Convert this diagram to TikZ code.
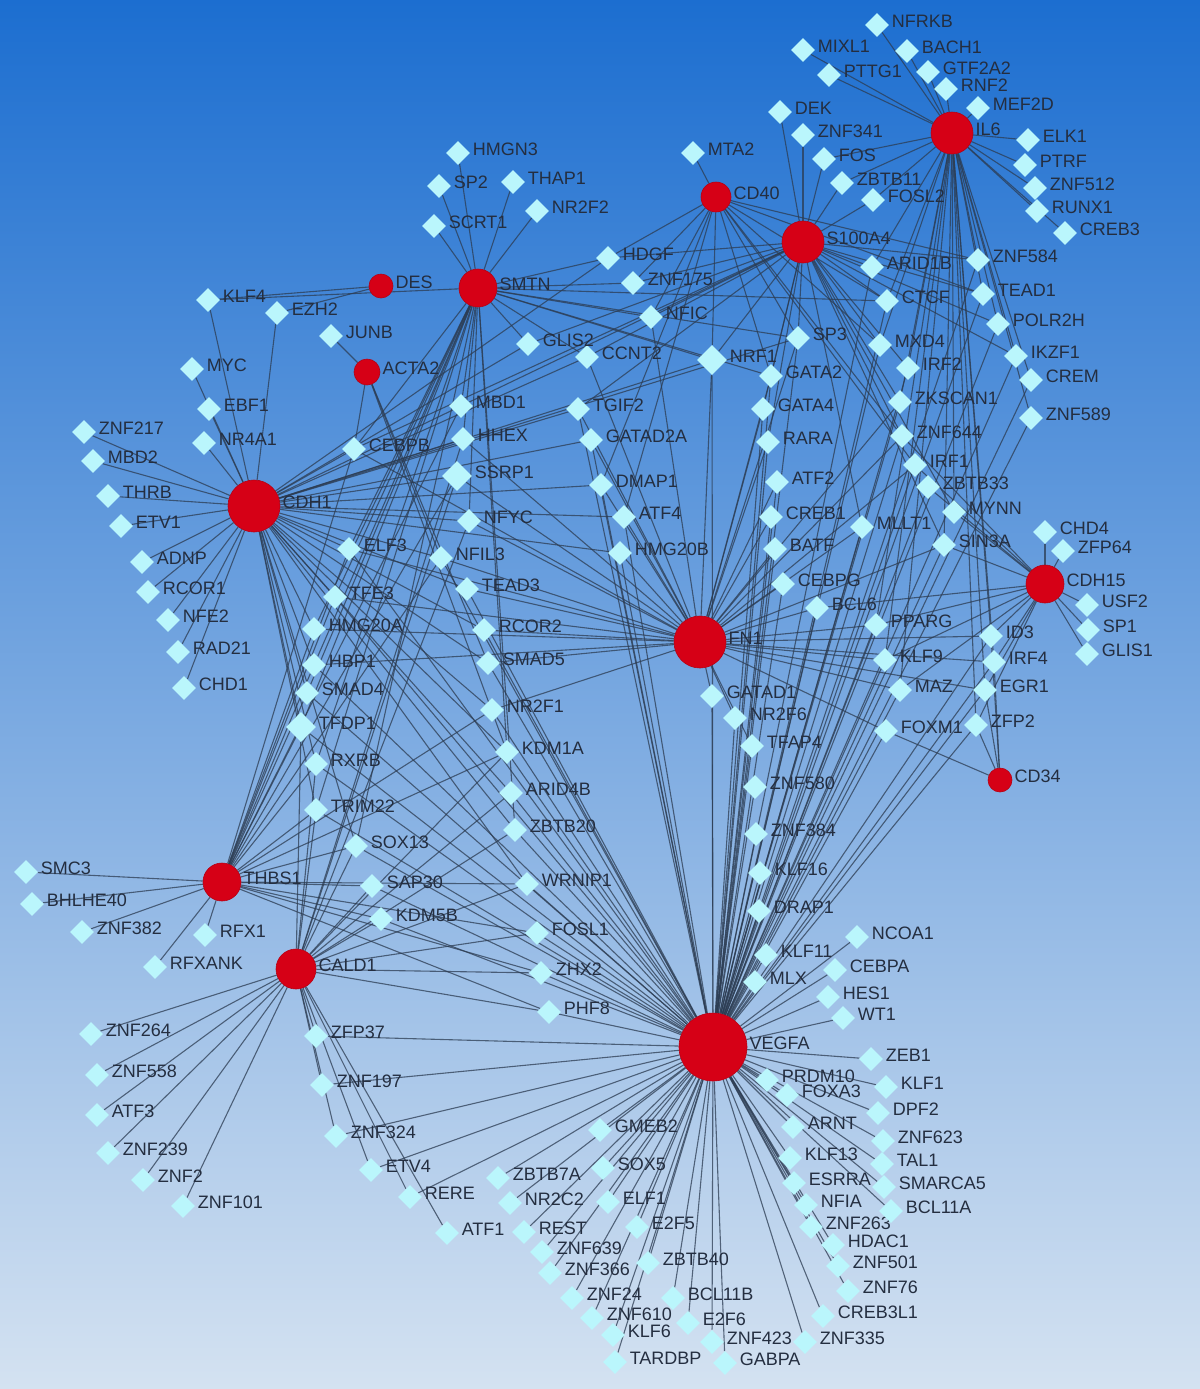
\documentclass[tikz,border=0pt]{standalone}
\usepackage{fontspec}
\setmainfont{Liberation Sans}
\usetikzlibrary{shapes.geometric}

\pgfdeclarelayer{bg}
\pgfdeclarelayer{edges}
\pgfsetlayers{bg,edges,main}

\definecolor{hubred}{RGB}{214,0,22}
\definecolor{tfcyan}{RGB}{186,246,252}
\definecolor{edgegray}{RGB}{44,60,82}
\definecolor{lbltext}{RGB}{36,46,64}
\definecolor{bgtop}{RGB}{28,110,208}
\definecolor{bgbot}{RGB}{212,226,241}

\tikzset{
  tf/.style={diamond,fill=tfcyan,inner sep=0pt,minimum size=12pt},
  bigtf/.style={tf,minimum size=15pt},
  hub/.style={circle,fill=hubred,draw=hubred!85!black,line width=.3pt,inner sep=0pt},
  lbl/.style={font=\fontsize{9}{10}\selectfont,text=lbltext,inner sep=1pt,yshift=2pt},
  link/.style={edgegray,opacity=.75,line width=.55pt},
}

\begin{document}
\begin{tikzpicture}[x=.5pt,y=-.5pt]

  \begin{pgfonlayer}{bg}
    \shade[top color=bgtop,bottom color=bgbot] (0,0) rectangle (1200,1389);
  \end{pgfonlayer}
  \useasboundingbox (0,0) rectangle (1200,1389);

  % hub genes
  \node[hub,minimum size=21pt,label={[lbl]right:IL6}] (IL6) at (952,133) {};
  \node[hub,minimum size=15pt,label={[lbl]right:CD40}] (CD40) at (716,197) {};
  \node[hub,minimum size=21pt,label={[lbl]right:S100A4}] (S100A4) at (803,242) {};
  \node[hub,minimum size=19pt,label={[lbl]right:SMTN}] (SMTN) at (478,288) {};
  \node[hub,minimum size=12pt,label={[lbl]right:DES}] (DES) at (381,286) {};
  \node[hub,minimum size=13pt,label={[lbl]right:ACTA2}] (ACTA2) at (367,372) {};
  \node[hub,minimum size=26pt,label={[lbl]right:CDH1}] (CDH1) at (254,506) {};
  \node[hub,minimum size=26pt,label={[lbl]right:FN1}] (FN1) at (700,642) {};
  \node[hub,minimum size=19pt,label={[lbl]right:CDH15}] (CDH15) at (1045,584) {};
  \node[hub,minimum size=12pt,label={[lbl]right:CD34}] (CD34) at (1000,780) {};
  \node[hub,minimum size=19pt,label={[lbl]right:THBS1}] (THBS1) at (222,882) {};
  \node[hub,minimum size=20pt,label={[lbl]right:CALD1}] (CALD1) at (296,969) {};
  \node[hub,minimum size=34pt,label={[lbl]right:VEGFA}] (VEGFA) at (713,1047) {};

  % transcription factors
  \foreach \n/\x/\y in {NFRKB/877/25, MIXL1/803/50, BACH1/907/51, PTTG1/829/75,
      GTF2A2/928/72, RNF2/946/89, MEF2D/978/108, DEK/780/112, ZNF341/803/135,
      FOS/824/159, ZBTB11/842/183, FOSL2/873/200, ELK1/1028/140, PTRF/1025/165,
      ZNF512/1035/188, RUNX1/1037/211, CREB3/1065/233, ZNF584/978/260,
      ARID1B/872/267, TEAD1/983/294, CTCF/887/301, POLR2H/998/324, MXD4/880/345,
      SP3/798/338, IKZF1/1016/356, CREM/1031/380, IRF2/908/368, ZNF589/1031/418,
      ZKSCAN1/900/402, ZNF644/902/436, IRF1/915/465, ZBTB33/928/487, MYNN/954/512,
      MLLT1/862/527, SIN3A/944/545, CHD4/1045/532, ZFP64/1063/551, USF2/1087/605,
      SP1/1088/630, GLIS1/1087/654, ID3/991/636, IRF4/994/662, EGR1/985/690,
      ZFP2/976/725, FOXM1/886/731, MAZ/900/690, KLF9/885/660, PPARG/876/625,
      BCL6/817/608, CEBPG/783/584, BATF/775/549, CREB1/771/517, ATF2/777/482,
      RARA/768/442, GATA4/763/409, GATA2/771/376, NFIC/651/317, ZNF175/633/283,
      HDGF/608/258, MTA2/693/153}
    \node[tf,label={[lbl]right:\n}] (\n) at (\x,\y) {};

  \foreach \n/\x/\y in {CCNT2/587/357, GLIS2/528/344, TGIF2/578/409,
      GATAD2A/591/440, DMAP1/601/485, ATF4/624/517, HMG20B/620/553, MBD1/461/406,
      HHEX/463/439, NFYC/469/521, NFIL3/441/558, TEAD3/467/589, RCOR2/484/630,
      SMAD5/488/663, NR2F1/492/710, KDM1A/507/752, ARID4B/511/793, ZBTB20/515/830,
      WRNIP1/527/884, FOSL1/537/933, ZHX2/541/973, PHF8/549/1012, CEBPB/354/449,
      ELF3/349/549, TFE3/335/597, HMG20A/314/629, HBP1/314/665, SMAD4/307/693,
      RXRB/316/764, TRIM22/316/810, SOX13/356/846, SAP30/372/886, KDM5B/381/919,
      GATAD1/712/696, NR2F6/735/718, TFAP4/752/746, ZNF580/755/787,
      ZNF384/756/834, KLF16/760/873, DRAP1/759/911, KLF11/766/955, MLX/755/982,
      NCOA1/857/937, CEBPA/835/970, HES1/828/997, WT1/843/1018}
    \node[tf,label={[lbl]right:\n}] (\n) at (\x,\y) {};

  \foreach \n/\x/\y in {KLF4/208/300, EZH2/277/313, JUNB/331/336, MYC/192/369,
      EBF1/209/409, NR4A1/204/443, ZNF217/84/432, MBD2/93/461, THRB/108/496,
      ETV1/121/526, ADNP/142/562, RCOR1/148/592, NFE2/168/620, RAD21/178/652,
      CHD1/184/688, SMC3/26/872, BHLHE40/32/904, ZNF382/82/932, RFX1/205/935,
      RFXANK/155/967, HMGN3/458/153, SP2/439/186, THAP1/513/182, SCRT1/434/226,
      NR2F2/537/211, ZFP37/316/1036, ZNF264/91/1034, ZNF558/97/1075,
      ATF3/97/1115, ZNF239/108/1153, ZNF2/143/1180, ZNF101/183/1206,
      ZNF197/322/1085, ZNF324/336/1136, ETV4/371/1170, RERE/410/1197,
      ATF1/447/1233}
    \node[tf,label={[lbl]right:\n}] (\n) at (\x,\y) {};

  \foreach \n/\x/\y in {GMEB2/600/1130, SOX5/603/1168, ZBTB7A/498/1178,
      NR2C2/510/1203, ELF1/608/1202, REST/524/1232, E2F5/637/1227,
      ZNF639/542/1252, ZNF366/550/1273, ZBTB40/648/1263, ZNF24/572/1298,
      ZNF610/592/1318, BCL11B/673/1298, KLF6/613/1335, E2F6/688/1323,
      TARDBP/615/1362, ZNF423/712/1342, GABPA/725/1363, ZNF335/805/1342,
      CREB3L1/823/1316, ZNF76/848/1291, ZNF501/838/1266, HDAC1/833/1245,
      ZNF263/811/1227, NFIA/806/1205, BCL11A/891/1211, ESRRA/794/1183,
      SMARCA5/884/1187, KLF13/790/1158, TAL1/882/1164, ARNT/793/1127,
      ZNF623/883/1141, PRDM10/767/1080, FOXA3/787/1095, DPF2/878/1113,
      KLF1/886/1087, ZEB1/871/1059}
    \node[tf,label={[lbl]right:\n}] (\n) at (\x,\y) {};

  \foreach \n/\x/\y in {SSRP1/457/476, NRF1/712/360, TFDP1/301/727}
    \node[bigtf,label={[lbl]right:\n}] (\n) at (\x,\y) {};

  % regulatory links
  \begin{pgfonlayer}{edges}
  \foreach \g in {NFRKB,MIXL1,BACH1,PTTG1,GTF2A2,RNF2,MEF2D,ELK1,PTRF,ZNF512,
      RUNX1,CREB3,ZNF584,TEAD1,POLR2H,IKZF1,CREM,ZNF589,FOSL2,ZBTB11,FOS,ARID1B,
      CTCF,MXD4,IRF2,ZKSCAN1,MYNN,SIN3A,ID3,IRF4,EGR1,ZFP2,KLF9,MAZ,PPARG}
    \draw[link] (IL6) -- (\g);
  \foreach \g in {DEK,ZNF341,FOS,ZBTB11,FOSL2,ARID1B,CTCF,MXD4,ZNF584,TEAD1,
      POLR2H,IKZF1,SP3,IRF2,ZKSCAN1,ZNF644,MYNN,HDGF,ZNF175,NFIC,NRF1,GATA2,
      GATA4,CCNT2,GLIS2,MLLT1,RARA,SIN3A,CEBPB,MBD1,TGIF2}
    \draw[link] (S100A4) -- (\g);
  \foreach \g in {MTA2,HDGF,ZNF175,NFIC,NRF1,GATA2,SP3,ZNF644,IRF1,CTCF,ZNF584,
      TEAD1,MXD4,DMAP1,ATF4}
    \draw[link] (CD40) -- (\g);
  \foreach \g in {HMGN3,SP2,THAP1,SCRT1,NR2F2,KLF4,GLIS2,CCNT2,NFIC,ZNF175,
      HDGF,NRF1,SP3,CTCF,CEBPB,MBD1,HHEX,NFYC,ELF3,TFE3,HMG20A,HBP1,SMAD4,
      KDM1A,ZBTB20,GATA2,TFDP1,RXRB,TRIM22,SOX13}
    \draw[link] (SMTN) -- (\g);
  \foreach \g in {KLF4,EZH2}
    \draw[link] (DES) -- (\g);
  \foreach \g in {JUNB,CEBPB,NFIL3,SMAD5,KDM1A}
    \draw[link] (ACTA2) -- (\g);
  \foreach \g in {KLF4,EZH2,MYC,EBF1,NR4A1,ZNF217,MBD2,THRB,ETV1,ADNP,RCOR1,
      NFE2,RAD21,CHD1,CEBPB,MBD1,HHEX,SSRP1,NFYC,ELF3,NFIL3,TEAD3,TFE3,HMG20A,
      HBP1,SMAD4,TFDP1,RXRB,TGIF2,GATAD2A,GLIS2,CCNT2,NRF1,SP3,HDGF,RCOR2,SMAD5,
      NR2F1,DMAP1,ATF4,HMG20B,KDM1A,ARID4B,ZBTB20,WRNIP1,TRIM22,SOX13}
    \draw[link] (CDH1) -- (\g);
  \foreach \g in {GATA2,GATA4,RARA,ATF2,CREB1,BATF,CEBPG,BCL6,PPARG,KLF9,MAZ,
      FOXM1,ID3,IRF4,EGR1,GATAD1,NR2F6,TFAP4,DMAP1,ATF4,HMG20B,TGIF2,GATAD2A,
      NFIL3,TEAD3,RCOR2,SMAD5,NR2F1,ELF3,TFE3,NFYC,SSRP1,HHEX,MLLT1,SIN3A,
      ZKSCAN1,ZNF644,IRF1,NRF1,CCNT2,SP3,NFIC,HMG20A,HBP1,CEBPB}
    \draw[link] (FN1) -- (\g);
  \foreach \g in {CHD4,ZFP64,USF2,SP1,GLIS1,ID3,IRF4,EGR1,ZFP2,PPARG,KLF9,MAZ,
      BCL6,MYNN,SIN3A,ZBTB33,IRF1,ZNF644}
    \draw[link] (CDH15) -- (\g);
  \foreach \g in {ZFP2,EGR1,FOXM1,IRF4,ID3}
    \draw[link] (CD34) -- (\g);
  \foreach \g in {SMC3,BHLHE40,ZNF382,RFX1,RFXANK,TFDP1,RXRB,TRIM22,SOX13,SAP30,
      KDM5B,HMG20A,HBP1,SMAD4,TFE3,ELF3,WRNIP1,FOSL1,KDM1A,NR2F1,CEBPB,MBD1,
      SSRP1,NFIL3,ZHX2,PHF8}
    \draw[link] (THBS1) -- (\g);
  \foreach \g in {ZNF264,ZNF558,ATF3,ZNF239,ZNF2,ZNF101,ZFP37,ZNF197,ZNF324,
      ETV4,RERE,ATF1,SOX13,SAP30,KDM5B,ZBTB20,WRNIP1,FOSL1,ZHX2,PHF8,ARID4B,
      KDM1A,TRIM22,RXRB,TFDP1,HHEX,SSRP1,NFYC}
    \draw[link] (CALD1) -- (\g);
  \foreach \g in {GMEB2,SOX5,ZBTB7A,NR2C2,ELF1,REST,E2F5,ZNF639,ZNF366,ZBTB40,
      ZNF24,ZNF610,BCL11B,KLF6,E2F6,TARDBP,ZNF423,GABPA,ZNF335,CREB3L1,ZNF76,
      ZNF501,HDAC1,ZNF263,NFIA,BCL11A,ESRRA,SMARCA5,KLF13,TAL1,ARNT,ZNF623,
      PRDM10,FOXA3,DPF2,KLF1,ZEB1,WT1,HES1,CEBPA,NCOA1,MLX,KLF11,DRAP1,KLF16,
      ZNF384,ZNF580,TFAP4,NR2F6,GATAD1,PHF8,ZHX2,FOSL1,WRNIP1,ZBTB20,ARID4B,
      KDM1A,NR2F1,SMAD5,RCOR2,TEAD3,NFIL3,SOX13,SAP30,KDM5B,TRIM22,RXRB,TFDP1,
      SMAD4,HBP1,ZFP37,ZNF197,ZNF324,ETV4,RERE,HMG20B,ATF4,DMAP1,GATAD2A,TGIF2,
      ELF3,TFE3,CREB1,BATF,CEBPG,ATF2,RARA,GATA4,GATA2,NRF1,SP3,MLLT1,SIN3A,MAZ,
      KLF9,PPARG,FOXM1,BCL6,ZKSCAN1,ZNF644,IRF1,ZBTB33,MXD4,IRF2,CTCF,ARID1B,
      IKZF1,CREM,ZNF589,POLR2H,TEAD1,ZNF584,EGR1,ZFP2,ID3,IRF4}
    \draw[link] (VEGFA) -- (\g);
  \end{pgfonlayer}

\end{tikzpicture}
\end{document}
